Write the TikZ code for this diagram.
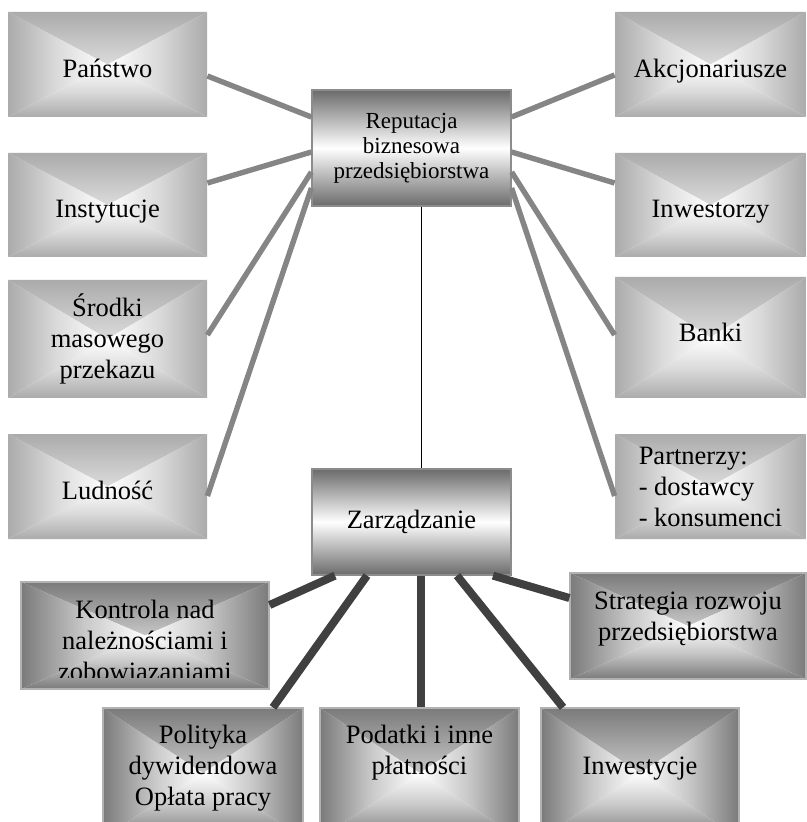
\documentclass[tikz,border=0pt]{standalone}
\usepackage{fontspec}
\setmainfont{Liberation Serif}
\usetikzlibrary{positioning}
\def\boxfont{\fontsize{13.25pt}{15.5pt}\selectfont}
\def\repfont{\fontsize{11.5pt}{12.5pt}\selectfont}
\def\rectshade#1#2{%
	\shade[top color=#1, bottom color=white, middle color=#2] (path picture bounding box.north west) -- (path picture bounding box.north east) -- (path picture bounding box.center) -- cycle;
	\shade[top color=white, bottom color=#1, middle color=#2] (path picture bounding box.south west) -- (path picture bounding box.south east) -- (path picture bounding box.center) -- cycle;
	\shade[left color=#1, right color=white, middle color=#2] (path picture bounding box.north west) -- (path picture bounding box.south west) -- (path picture bounding box.center) -- cycle;
	\shade[left color=white, right color=#1, middle color=#2] (path picture bounding box.north east) -- (path picture bounding box.south east) -- (path picture bounding box.center) -- cycle;}

\begin{document}
\begin{tikzpicture}[x=0.5pt,y=-0.5pt,font=\boxfont]
			\tikzstyle{side}=[path picture={\rectshade{black!33}{black!14}}, minimum width=99.5pt, align=center]
			\tikzstyle{word}=[text height=13pt, text depth=0pt]
			\tikzstyle{core}=[draw=black!45, line width=0.6pt, top color=black!58, bottom color=black!58, middle color=white, minimum width=99.5pt, align=center]
			\tikzstyle{task}=[draw=black!30, line width=0.6pt, path picture={\rectshade{black!52}{black!22}}]
			\tikzstyle{tasktext}=[inner sep=0pt, align=center]
			\tikzstyle{link}=[black!48, line width=2.7pt]
			\tikzstyle{tasklink}=[black!75, line width=4pt]
			
			\useasboundingbox (0,0) rectangle (806,822);
			
			\node[side, word, minimum height=52.5pt] (panstwo) at (107.5,64.5) {Państwo};
			\node[side, word, minimum height=52pt] (instytucje) at (107.5,205) {Instytucje};
			\node[side, minimum height=59pt] (media) at (107.5,339) {Środki\\masowego\\przekazu};
			\node[side, word, minimum height=52.5pt] (ludnosc) at (107.5,486.5) {Ludność};
			\node[side, word, minimum width=95.5pt, minimum height=52.5pt] (akcjonariusze) at (710.5,64.5) {Akcjonariusze};
			\node[side, word, minimum width=95.5pt, minimum height=52pt] (inwestorzy) at (710.5,205) {Inwestorzy};
			\node[side, minimum width=95.5pt, minimum height=60.5pt, text height=4.5pt, text depth=0pt] (banki) at (710.5,337.5) {Banki};
			\node[side, minimum width=95.5pt, minimum height=52.5pt, align=left] (partnerzy) at (710.5,486.5) {Partnerzy:\\- dostawcy\\- konsumenci};
			
			\node[core, minimum height=58pt, font=\repfont] (reputacja) at (411.5,148) {Reputacja\\biznesowa\\przedsiębiorstwa};
			\node[core, minimum height=53pt] (zarzadzanie) at (411.5,522) {Zarządzanie};
			
			\node[task, minimum width=124pt, minimum height=53.5pt] (kontrola) at (145,635.5) {};
			\node[task, minimum width=118pt, minimum height=53pt] (strategia) at (688,626) {};
			\node[task, minimum width=100pt, minimum height=65pt] (polityka) at (203,773) {};
			\node[task, minimum width=99.5pt, minimum height=65pt] (podatki) at (419.5,773) {};
			\node[task, minimum width=99pt, minimum height=65pt] (inwestycje) at (640,773) {};
			
			\begin{scope}
				\clip (kontrola.north west) rectangle (kontrola.east |- 0,677);
				\node[tasktext, below=9pt of kontrola.north] (kontrolatxt) {Kontrola nad\\należnościami i\\zobowiazaniami};
			\end{scope}
			\node[tasktext, below=9.5pt of strategia.north] (strategiatxt) {Strategia rozwoju\\przedsiębiorstwa};
			\node[tasktext, below=8.5pt of polityka.north] (politykatxt) {Polityka\\dywidendowa\\Opłata pracy};
			\node[tasktext, below=8.5pt of podatki.north] (podatkitxt) {Podatki i inne\\płatności};
			\node[tasktext, below=24.5pt of inwestycje.north] (inwestycjetxt) {Inwestycje};
			
			\path[link]
				(panstwo.east |- 0,76) edge (reputacja.west |- 0,117)
				(instytucje.east |- 0,183) edge (reputacja.west |- 0,152)
				(media.east |- 0,335) edge (reputacja.west |- 0,172)
				(ludnosc.east |- 0,496) edge (reputacja.west |- 0,188)
				(akcjonariusze.west |- 0,75) edge (reputacja.east |- 0,117)
				(inwestorzy.west |- 0,183) edge (reputacja.east |- 0,152)
				(banki.west |- 0,335) edge (reputacja.east |- 0,172)
				(partnerzy.west |- 0,496) edge (reputacja.east |- 0,188)
			;
			\draw[line width=0.5pt] (reputacja.south -| 421,0) -- (zarzadzanie.north -| 421,0);
			\path[tasklink]
				(zarzadzanie.south -| 335,0) edge (kontrola.east |- 0,605)
				(zarzadzanie.south -| 367,0) edge (polityka.north -| 273,0)
				(zarzadzanie.south -| 421,0) edge (podatki.north -| 421,0)
				(zarzadzanie.south -| 457,0) edge (inwestycje.north -| 563,0)
				(zarzadzanie.south -| 493,0) edge (strategia.west |- 0,598)
			;
\end{tikzpicture}
\end{document}
